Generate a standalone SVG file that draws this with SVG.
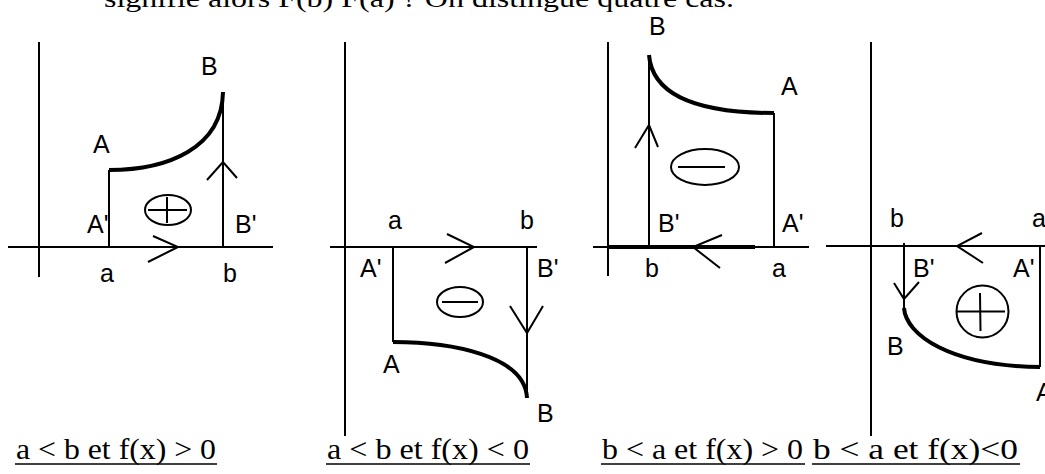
<svg xmlns="http://www.w3.org/2000/svg" width="1045" height="474" viewBox="0 0 1045 474">
<style>
.ln{stroke:#000;stroke-width:2;fill:none;stroke-linecap:butt}
.cv{stroke:#000;stroke-width:4;fill:none}
.el{stroke:#000;stroke-width:2;fill:none}
.lb{font-family:"Liberation Sans",Arial,sans-serif;font-size:25px;fill:#000}
.cap{font-family:"Liberation Serif","Times New Roman",serif;font-size:29px;fill:#000}
.ul{stroke:#000;stroke-width:1.5}
</style>
<rect width="1045" height="474" fill="#fff"/>
<text x="104" y="7" font-family="Liberation Serif, Times New Roman, serif" font-size="26" textLength="630" lengthAdjust="spacingAndGlyphs">signifie alors F(b) F(a) ? On distingue quatre cas.</text>

<g id="panel1">
<line class="ln" x1="39" y1="42" x2="39" y2="277"/>
<line class="ln" x1="8" y1="247" x2="273" y2="247"/>
<line class="ln" x1="109" y1="170" x2="109" y2="247"/>
<line class="ln" x1="223" y1="92" x2="223" y2="247"/>
<path class="cv" d="M109,170 C168,170 222,148 223,92"/>
<polyline class="ln" points="153,236 178,247 148,262"/>
<polyline class="ln" points="207,180 223,162 237,178"/>
<ellipse class="el" cx="168" cy="210" rx="23" ry="15"/>
<line class="ln" x1="148" y1="210" x2="187" y2="210"/>
<line class="ln" x1="167" y1="197" x2="167" y2="223"/>
<text class="lb" x="201" y="75">B</text>
<text class="lb" x="93" y="153">A</text>
<text class="lb" x="87" y="233">A'</text>
<text class="lb" x="235" y="233">B'</text>
<text class="lb" x="100" y="282">a</text>
<text class="lb" x="223" y="282">b</text>
</g>

<g id="panel2">
<line class="ln" x1="345" y1="42" x2="345" y2="436"/>
<line class="ln" x1="330" y1="247" x2="537" y2="247"/>
<line class="ln" x1="393" y1="247" x2="393" y2="342"/>
<line class="ln" x1="527" y1="247" x2="527" y2="398"/>
<path class="cv" d="M393,342 C450,342 525,355 527,398"/>
<polyline class="ln" points="447,234 474,247 445,263"/>
<polyline class="ln" points="510,306 527,333 543,306"/>
<ellipse class="el" cx="460" cy="302" rx="23" ry="15"/>
<line class="ln" x1="442" y1="302" x2="478" y2="302"/>
<text class="lb" x="388" y="229">a</text>
<text class="lb" x="520" y="229">b</text>
<text class="lb" x="360" y="277">A'</text>
<text class="lb" x="537" y="277">B'</text>
<text class="lb" x="383" y="373">A</text>
<text class="lb" x="537" y="422">B</text>
</g>

<g id="panel3">
<line class="ln" x1="608" y1="42" x2="608" y2="276"/>
<line class="ln" x1="593" y1="247" x2="809" y2="247"/>
<line class="cv" x1="608" y1="247" x2="755" y2="247"/>
<line class="ln" x1="649" y1="55" x2="649" y2="247"/>
<line class="ln" x1="774" y1="113" x2="774" y2="247"/>
<path class="cv" d="M649,55 C652,92 690,113 774,113"/>
<polyline class="ln" points="635,148 649,125 658,147"/>
<polyline class="ln" points="722,235 693,247 720,268"/>
<ellipse class="el" cx="705" cy="167" rx="34" ry="18"/>
<line class="ln" x1="678" y1="167" x2="725" y2="167"/>
<text class="lb" x="649" y="35">B</text>
<text class="lb" x="781" y="95">A</text>
<text class="lb" x="658" y="232">B'</text>
<text class="lb" x="782" y="232">A'</text>
<text class="lb" x="645" y="277">b</text>
<text class="lb" x="772" y="277">a</text>
</g>

<g id="panel4">
<line class="ln" x1="871" y1="42" x2="871" y2="436"/>
<line class="ln" x1="826" y1="246" x2="1045" y2="246"/>
<line class="ln" x1="904" y1="243" x2="904" y2="310"/>
<line class="ln" x1="1040" y1="245" x2="1040" y2="367"/>
<path class="cv" d="M904,308 C906,335 950,366 1040,367"/>
<polyline class="ln" points="982,233 957,246 983,263"/>
<polyline class="ln" points="894,283 904,299 919,282"/>
<circle class="el" cx="982.5" cy="311.5" r="26"/>
<line class="ln" x1="957" y1="311.5" x2="1005" y2="311.5"/>
<line class="ln" x1="980" y1="293" x2="980.5" y2="331"/>
<text class="lb" x="890" y="227">b</text>
<text class="lb" x="1032" y="227">a</text>
<text class="lb" x="913" y="277">B'</text>
<text class="lb" x="1013" y="277">A'</text>
<text class="lb" x="887" y="355">B</text>
<text class="lb" x="1036" y="401">A</text>
</g>

<g id="captions">
<text class="cap" x="16" y="459" textLength="200" lengthAdjust="spacingAndGlyphs">a &lt; b et f(x) &gt; 0</text>
<line class="ul" x1="15" y1="464" x2="217" y2="464"/>
<text class="cap" x="327" y="459" textLength="202" lengthAdjust="spacingAndGlyphs">a &lt; b et f(x) &lt; 0</text>
<line class="ul" x1="326" y1="464" x2="530" y2="464"/>
<text class="cap" x="602" y="459" textLength="201" lengthAdjust="spacingAndGlyphs">b &lt; a et f(x) &gt; 0</text>
<line class="ul" x1="601" y1="464" x2="805" y2="464"/>
<text class="cap" x="813" y="459" textLength="205" lengthAdjust="spacingAndGlyphs">b &lt; a et f(x)&lt;0</text>
<line class="ul" x1="812" y1="464" x2="1020" y2="464"/>
</g>
</svg>
